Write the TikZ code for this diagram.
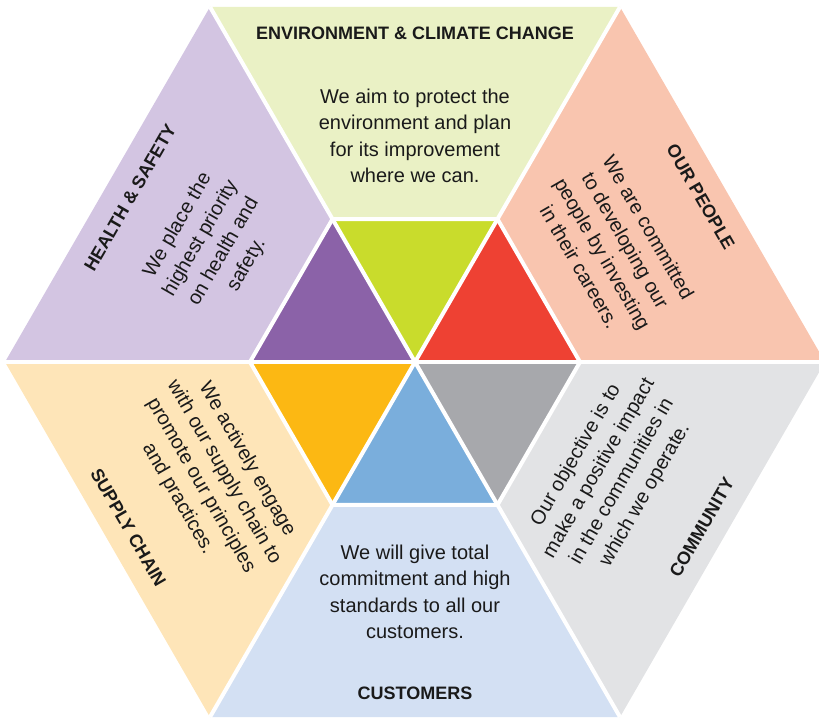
\documentclass[tikz,border=0pt]{standalone}
\usepackage{fontspec}
\setmainfont{Liberation Sans}
\usetikzlibrary{calc}
\definecolor{paleT}{HTML}{EAF1C5}\definecolor{darkT}{HTML}{C9DC2C}
\definecolor{paleUL}{HTML}{D3C5E2}\definecolor{darkUL}{HTML}{8B62A8}
\definecolor{paleUR}{HTML}{F9C5AF}\definecolor{darkUR}{HTML}{EE4133}
\definecolor{paleLR}{HTML}{E2E3E5}\definecolor{darkLR}{HTML}{A7A8AC}
\definecolor{paleB}{HTML}{D3E0F3}\definecolor{darkB}{HTML}{7AAEDC}
\definecolor{paleLL}{HTML}{FEE5B8}\definecolor{darkLL}{HTML}{FCB813}
\definecolor{ink}{HTML}{1A1A1A}
\tikzset{
  gap/.style={draw=white,line width=4pt,line join=miter},
  body/.style={align=center,text=ink,inner sep=0pt,font=\fontsize{20}{26.5}\selectfont},
  head/.style={text=ink,inner sep=0pt,font=\fontsize{18}{20}\selectfont\bfseries}
}
\begin{document}
\begin{tikzpicture}[x=1pt,y=1pt]
\useasboundingbox (0,0) rectangle (819,720);
\clip (0,0) rectangle (819,720);
\coordinate (C) at (415,358);
\foreach \i in {0,...,5}{
  \coordinate (O\i) at ($(C)+(\i*60:410pt)$);
  \coordinate (I\i) at ($(C)+(\i*60:165pt)$);
}
% outer trapezoids
\fill[paleUR] (I0) -- (O0) -- (O1) -- (I1) -- cycle;
\fill[paleT]  (I1) -- (O1) -- (O2) -- (I2) -- cycle;
\fill[paleUL] (I2) -- (O2) -- (O3) -- (I3) -- cycle;
\fill[paleLL] (I3) -- (O3) -- (O4) -- (I4) -- cycle;
\fill[paleB]  (I4) -- (O4) -- (O5) -- (I5) -- cycle;
\fill[paleLR] (I5) -- (O5) -- (O0) -- (I0) -- cycle;
% inner triangles
\fill[darkUR] (C) -- (I0) -- (I1) -- cycle;
\fill[darkT]  (C) -- (I1) -- (I2) -- cycle;
\fill[darkUL] (C) -- (I2) -- (I3) -- cycle;
\fill[darkLL] (C) -- (I3) -- (I4) -- cycle;
\fill[darkB]  (C) -- (I4) -- (I5) -- cycle;
\fill[darkLR] (C) -- (I5) -- (I0) -- cycle;
% white separators
\foreach \i in {0,...,5}{ \draw[gap] (C) -- (O\i); }
\draw[gap] (I0) -- (I1) -- (I2) -- (I3) -- (I4) -- (I5) -- cycle;
% texts
\node[head] (hT) at ($(C)+(90:329pt)$) {ENVIRONMENT \& CLIMATE CHANGE};
\node[body] (tT) at ($(C)+(90:226pt)$) {We aim to protect the\\environment and plan\\for its improvement\\where we can.};
\node[head,rotate=60] (hUL) at ($(C)+(150:329pt)$) {HEALTH \& SAFETY};
\node[body,rotate=60] (tUL) at ($(C)+(150:234pt)$) {We place the\\highest priority\\on health and\\safety.};
\node[head,rotate=-60] (hUR) at ($(C)+(30:330pt)$) {OUR PEOPLE};
\node[body,rotate=-60] (tUR) at ($(C)+(30:230pt)$) {We are committed\\to developing our\\people by investing\\in their careers.};
\node[head,rotate=60] (hLR) at ($(C)+(330:331pt)$) {COMMUNITY};
\node[body,rotate=60] (tLR) at ($(C)+(330:226pt)$) {Our objective is to\\make a positive impact\\in the communities in\\which we operate.};
\node[head,rotate=-60] (hLL) at ($(C)+(210:331pt)$) {SUPPLY CHAIN};
\node[body,rotate=-60] (tLL) at ($(C)+(210:234pt)$) {We actively engage\\with our supply chain to\\promote our principles\\and practices.};
\node[head] (hB) at ($(C)+(270:331pt)$) {CUSTOMERS};
\node[body] (tB) at ($(C)+(270:230pt)$) {We will give total\\commitment and high\\standards to all our\\customers.};
\end{tikzpicture}
\end{document}
